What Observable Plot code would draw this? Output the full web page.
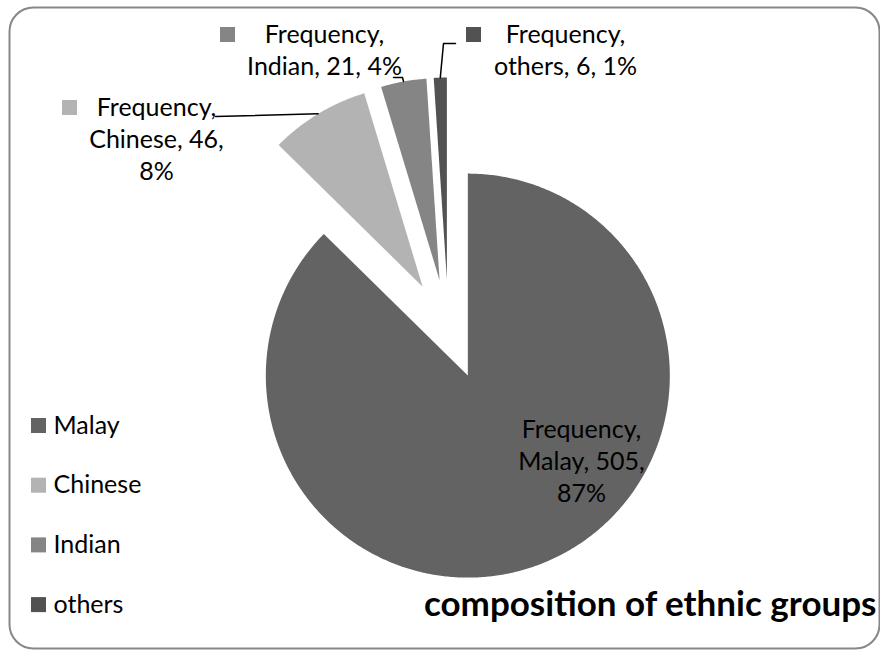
<!DOCTYPE html>
<html><head><meta charset="utf-8">
<script src="https://cdn.jsdelivr.net/npm/d3@7"></script>
<script src="https://cdn.jsdelivr.net/npm/@observablehq/plot@0.6"></script>
<style>body{margin:0;background:#fff}#chart{width:880px;height:650px}</style>
</head><body><div id="chart"></div>
<script>
// ---- data ----
const seriesName = "Frequency";
const groups = ["Malay", "Chinese", "Indian", "others"];
const counts = [505, 46, 21, 6];
const greys = ["#636363", "#b3b3b3", "#858585", "#525252"];
const chartTitle = "composition of ethnic groups";

// ---- layout ----
const W = 880, H = 650;
const cx = 448, cy = 329, R = 202, explode = 50;
const FONT = "Lato, 'Open Sans', sans-serif";
const fs = 25, lh = 32, titleFs = 35;

const total = d3.sum(counts);
const arcs = d3.pie().sort(null).startAngle(0).endAngle(2 * Math.PI)(counts);
const slices = arcs.map((a, i) => {
  const mid = (a.startAngle + a.endAngle) / 2;
  const ox = cx + explode * Math.sin(mid), oy = cy - explode * Math.cos(mid);
  return {
    name: groups[i], value: counts[i], pct: Math.round(counts[i] / total * 100),
    a0: a.startAngle, a1: a.endAngle, ox, oy,
    tipX: ox + R * Math.sin(mid), tipY: oy - R * Math.cos(mid)
  };
});

const poly = [];
for (const s of slices) {
  const n = Math.max(4, Math.ceil((s.a1 - s.a0) / (Math.PI / 360)));
  poly.push({name: s.name, x: s.ox, y: s.oy});
  for (let k = 0; k <= n; k++) {
    const t = s.a0 + (s.a1 - s.a0) * k / n;
    poly.push({name: s.name, x: s.ox + R * Math.sin(t), y: s.oy - R * Math.cos(t)});
  }
}

// label placement (layout only)
const labelLayout = {
  Malay:   {x: 581, base: 437, split: 3, key: null, path: null},
  Chinese: {x: 156, base: 115, split: 3, key: [62, 100], path: [[215, 116]]},
  Indian:  {x: 324, base: 42,  split: 2, key: [220, 27], path: [[402, 77], [393, 77]]},
  others:  {x: 565, base: 42,  split: 2, key: [466, 27], path: [[443, 43], [455, 43]]}
};

const labelRows = [], keyRows = [], leaderPts = [];
for (const s of slices) {
  const L = labelLayout[s.name];
  const lines = L.split === 3
    ? [`${seriesName},`, `${s.name}, ${s.value},`, `${s.pct}%`]
    : [`${seriesName},`, `${s.name}, ${s.value}, ${s.pct}%`];
  lines.forEach((t, i) => labelRows.push({text: t, x: L.x, y: L.base + i * lh - 0.32 * fs}));
  if (L.key) keyRows.push({name: s.name, x1: L.key[0], x2: L.key[0] + 15, y1: L.key[1], y2: L.key[1] + 15});
  if (L.path) {
    leaderPts.push({name: s.name, x: s.tipX, y: s.tipY});
    for (const p of L.path) leaderPts.push({name: s.name, x: p[0], y: p[1]});
  }
}

const legendRows = groups.map((g, i) => ({name: g, y: 418 + i * 59.7}));

const chart = Plot.plot({
  width: W, height: H,
  margin: 0,
  x: {domain: [0, W], range: [0, W], axis: null},
  y: {domain: [0, H], range: [0, H], axis: null},
  color: {domain: groups, range: greys},
  style: {fontFamily: FONT, background: "#fff"},
  marks: [
    Plot.frame({stroke: "#878787", strokeWidth: 2, rx: 24, insetLeft: 9, insetTop: 7, insetRight: 1, insetBottom: 2}),
    Plot.line(poly, {x: "x", y: "y", z: "name", fill: "name", stroke: null, curve: "linear-closed"}),
    Plot.line(leaderPts, {x: "x", y: "y", z: "name", stroke: "#000", strokeWidth: 1.5}),
    Plot.rect(keyRows, {x1: "x1", x2: "x2", y1: "y1", y2: "y2", fill: "name"}),
    Plot.text(labelRows, {x: "x", y: "y", text: "text", fontSize: fs, fill: "#000"}),
    Plot.rect(legendRows, {x1: 31, x2: 46, y1: "y", y2: d => d.y + 15, fill: "name"}),
    Plot.text(legendRows, {x: 53, y: d => d.y + 15 - 0.32 * fs, text: "name", textAnchor: "start", fontSize: fs, fill: "#000"}),
    Plot.text([chartTitle], {x: 876, y: 615 - 0.32 * titleFs, text: d => d, textAnchor: "end", fontSize: titleFs, fontWeight: "bold", fill: "#000"})
  ]
});
document.getElementById("chart").append(chart);
</script>
</body></html>
